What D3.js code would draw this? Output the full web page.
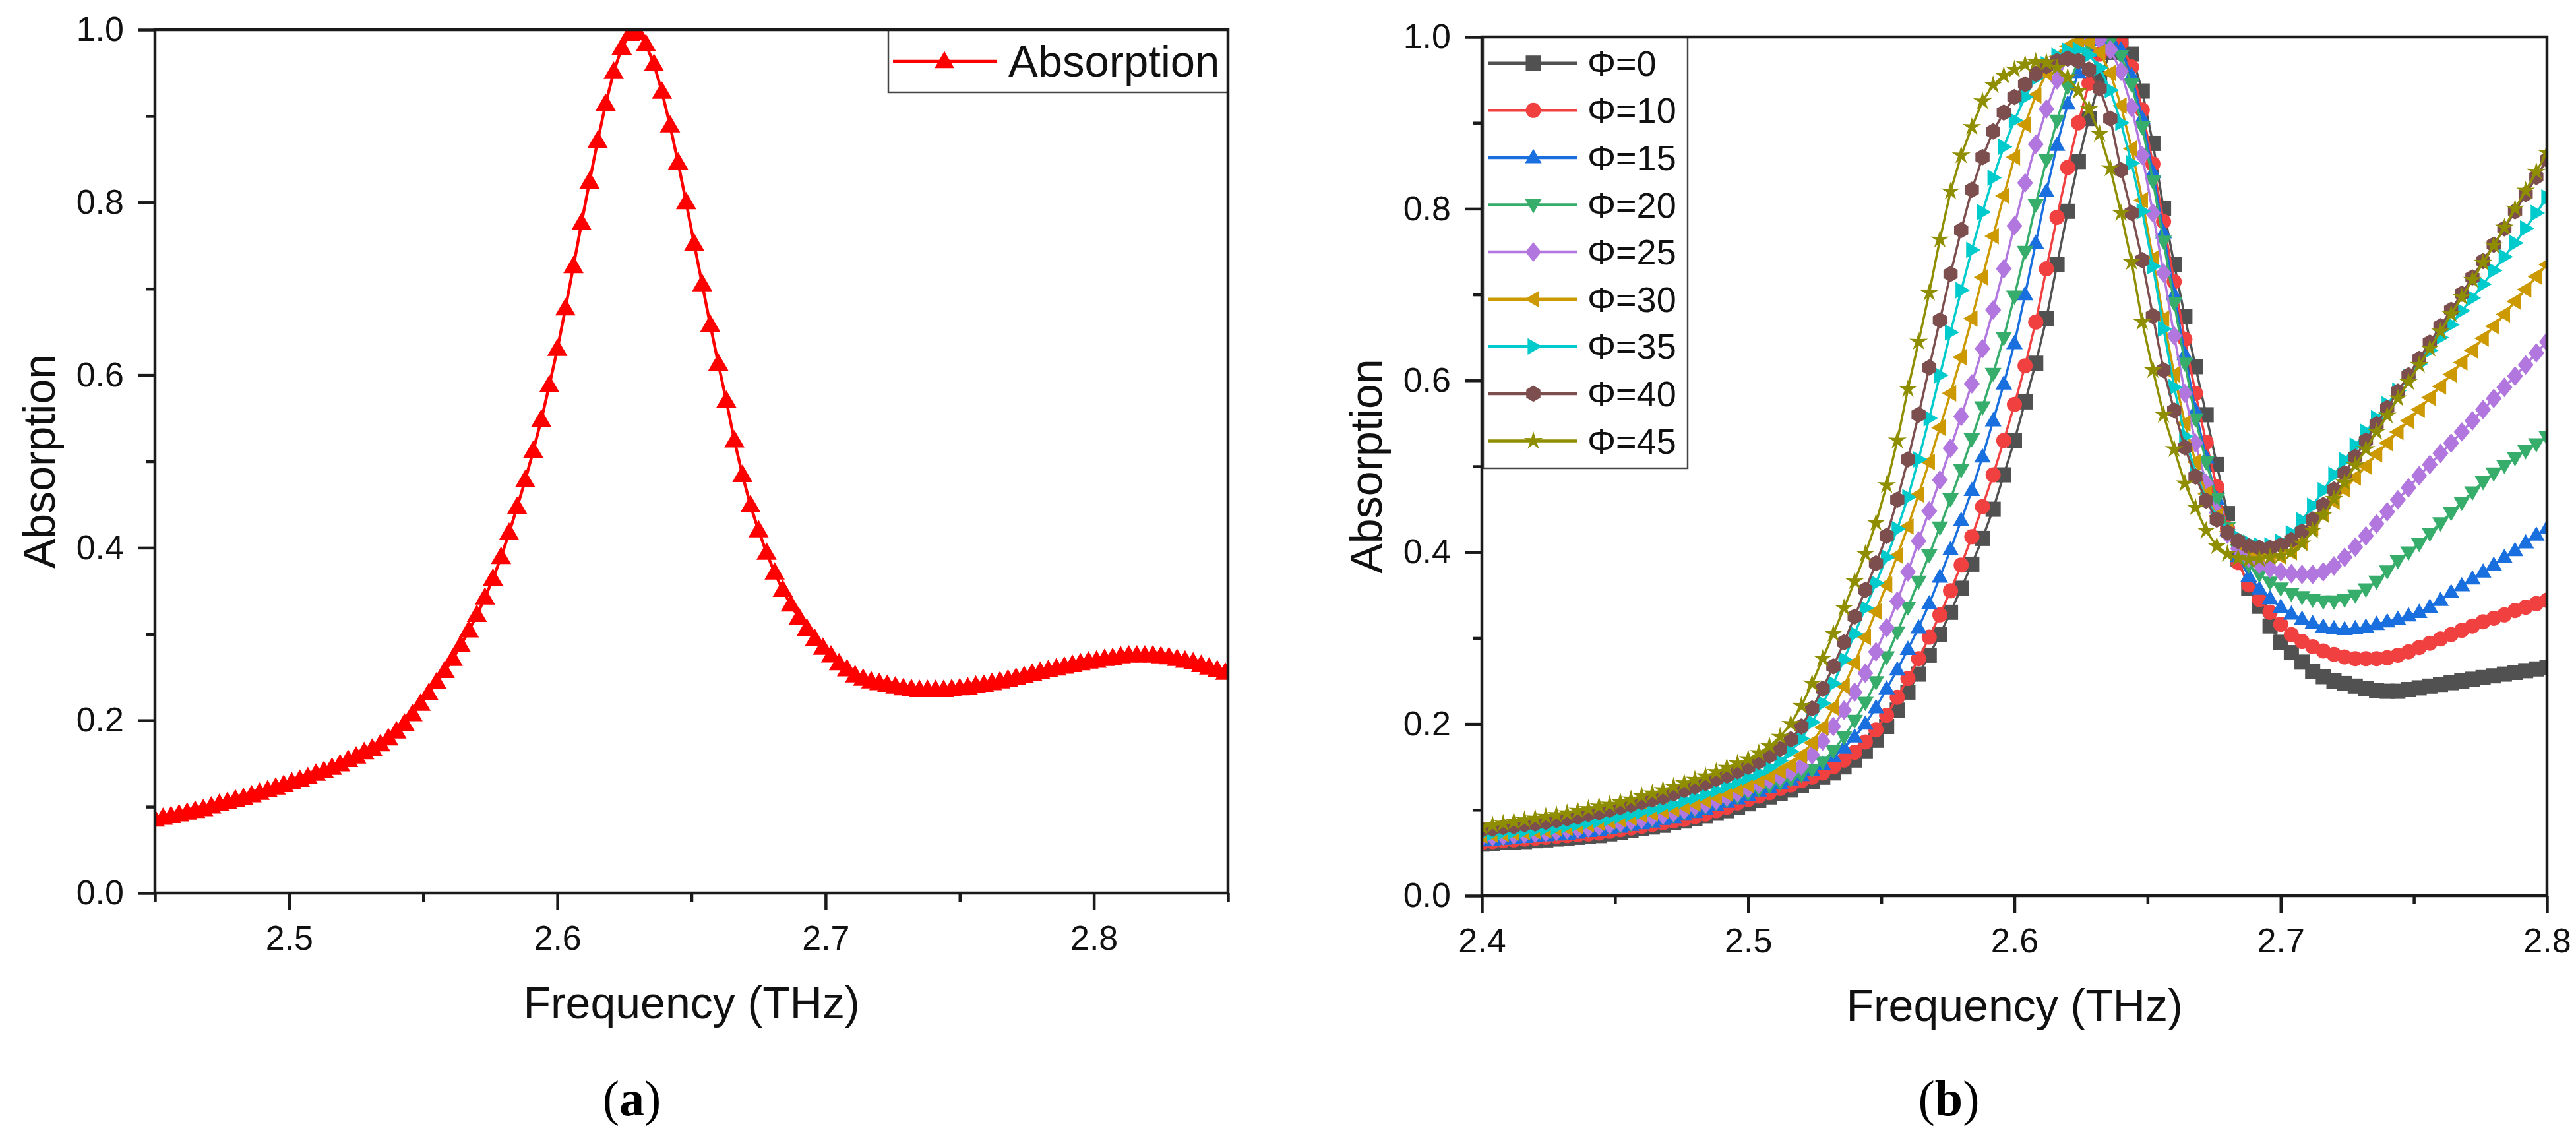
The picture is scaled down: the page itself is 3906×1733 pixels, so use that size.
<!DOCTYPE html>
<html><head><meta charset="utf-8">
<script src="https://cdn.jsdelivr.net/npm/d3@7"></script>
<style>body{margin:0;background:#fff}svg{display:block}</style>
</head><body>
<svg id="chart" width="3906" height="1733"></svg>
<script>
// ---------- Panel (a) data ----------
const freqA = [2.450,2.453,2.456,2.459,2.462,2.465,2.468,2.471,2.474,2.477,2.480,2.483,2.486,2.489,2.492,2.495,2.498,2.501,2.504,2.507,2.510,2.513,2.516,2.519,2.522,2.525,2.528,2.531,2.534,2.537,2.540,2.543,2.546,2.549,2.552,2.555,2.558,2.561,2.564,2.567,2.570,2.573,2.576,2.579,2.582,2.585,2.588,2.591,2.594,2.597,2.600,2.603,2.606,2.609,2.612,2.615,2.618,2.621,2.624,2.627,2.630,2.633,2.636,2.639,2.642,2.645,2.648,2.651,2.654,2.657,2.660,2.663,2.666,2.669,2.672,2.675,2.678,2.681,2.684,2.687,2.690,2.693,2.696,2.699,2.702,2.705,2.708,2.711,2.714,2.717,2.720,2.723,2.726,2.729,2.732,2.735,2.738,2.741,2.744,2.747,2.750,2.753,2.756,2.759,2.762,2.765,2.768,2.771,2.774,2.777,2.780,2.783,2.786,2.789,2.792,2.795,2.798,2.801,2.804,2.807,2.810,2.813,2.816,2.819,2.822,2.825,2.828,2.831,2.834,2.837,2.840,2.843,2.846,2.849];
const absA = [0.085,0.087,0.089,0.091,0.093,0.095,0.097,0.100,0.103,0.105,0.108,0.110,0.113,0.116,0.119,0.122,0.125,0.128,0.131,0.134,0.138,0.141,0.145,0.149,0.154,0.158,0.163,0.167,0.172,0.179,0.187,0.196,0.207,0.219,0.231,0.244,0.257,0.271,0.287,0.304,0.322,0.342,0.364,0.389,0.417,0.447,0.478,0.512,0.548,0.588,0.630,0.677,0.726,0.776,0.824,0.871,0.914,0.951,0.979,0.995,0.996,0.983,0.960,0.928,0.889,0.846,0.800,0.752,0.705,0.658,0.613,0.570,0.524,0.484,0.449,0.420,0.394,0.371,0.351,0.334,0.319,0.306,0.294,0.284,0.275,0.266,0.259,0.252,0.248,0.245,0.243,0.241,0.239,0.237,0.236,0.235,0.235,0.235,0.235,0.236,0.237,0.238,0.240,0.241,0.243,0.245,0.247,0.249,0.251,0.254,0.256,0.258,0.260,0.262,0.264,0.266,0.268,0.269,0.271,0.272,0.274,0.275,0.275,0.275,0.275,0.274,0.273,0.271,0.269,0.267,0.264,0.261,0.258,0.255];
const legendA = "Absorption";

// ---------- Panel (b) data ----------
const freqB = [2.400,2.404,2.408,2.412,2.416,2.420,2.424,2.428,2.432,2.436,2.440,2.444,2.448,2.452,2.456,2.460,2.464,2.468,2.472,2.476,2.480,2.484,2.488,2.492,2.496,2.500,2.504,2.508,2.512,2.516,2.520,2.524,2.528,2.532,2.536,2.540,2.544,2.548,2.552,2.556,2.560,2.564,2.568,2.572,2.576,2.580,2.584,2.588,2.592,2.596,2.600,2.604,2.608,2.612,2.616,2.620,2.624,2.628,2.632,2.636,2.640,2.644,2.648,2.652,2.656,2.660,2.664,2.668,2.672,2.676,2.680,2.684,2.688,2.692,2.696,2.700,2.704,2.708,2.712,2.716,2.720,2.724,2.728,2.732,2.736,2.740,2.744,2.748,2.752,2.756,2.760,2.764,2.768,2.772,2.776,2.780,2.784,2.788,2.792,2.796,2.800];
const phiLabels = ["Φ=0","Φ=10","Φ=15","Φ=20","Φ=25","Φ=30","Φ=35","Φ=40","Φ=45"];
const phi0 = [0.060,0.061,0.062,0.062,0.063,0.064,0.065,0.066,0.067,0.068,0.069,0.070,0.072,0.074,0.076,0.078,0.080,0.082,0.085,0.087,0.090,0.093,0.096,0.099,0.103,0.107,0.111,0.115,0.119,0.123,0.128,0.133,0.138,0.143,0.150,0.158,0.168,0.181,0.197,0.216,0.237,0.258,0.280,0.304,0.330,0.358,0.386,0.416,0.450,0.490,0.530,0.575,0.620,0.672,0.735,0.797,0.855,0.905,0.950,0.982,0.995,0.980,0.937,0.876,0.800,0.735,0.674,0.616,0.560,0.502,0.445,0.392,0.358,0.337,0.314,0.295,0.283,0.272,0.261,0.255,0.250,0.247,0.244,0.241,0.239,0.238,0.238,0.240,0.242,0.244,0.246,0.248,0.250,0.252,0.254,0.256,0.258,0.260,0.262,0.264,0.266];
const phi10 = [0.062,0.063,0.064,0.065,0.066,0.067,0.068,0.069,0.070,0.071,0.072,0.073,0.075,0.077,0.079,0.081,0.083,0.085,0.087,0.089,0.092,0.095,0.099,0.103,0.108,0.112,0.116,0.120,0.125,0.129,0.134,0.138,0.143,0.150,0.158,0.167,0.179,0.193,0.210,0.231,0.253,0.276,0.301,0.327,0.355,0.385,0.418,0.453,0.490,0.530,0.572,0.617,0.668,0.730,0.790,0.848,0.900,0.946,0.980,0.997,0.993,0.965,0.915,0.852,0.785,0.715,0.648,0.585,0.528,0.476,0.428,0.388,0.362,0.345,0.330,0.316,0.304,0.296,0.290,0.285,0.281,0.278,0.276,0.276,0.276,0.277,0.280,0.284,0.289,0.294,0.299,0.304,0.309,0.314,0.319,0.323,0.327,0.332,0.336,0.340,0.344];
const phi15 = [0.064,0.065,0.066,0.067,0.068,0.069,0.070,0.071,0.072,0.073,0.075,0.076,0.078,0.080,0.082,0.084,0.086,0.089,0.091,0.094,0.097,0.101,0.105,0.109,0.113,0.117,0.122,0.126,0.131,0.135,0.140,0.146,0.153,0.162,0.172,0.185,0.200,0.219,0.241,0.263,0.287,0.312,0.340,0.371,0.403,0.437,0.472,0.511,0.553,0.596,0.643,0.700,0.760,0.820,0.874,0.922,0.958,0.983,0.996,0.998,0.985,0.955,0.905,0.842,0.772,0.700,0.630,0.565,0.510,0.462,0.425,0.395,0.372,0.357,0.346,0.336,0.328,0.322,0.317,0.313,0.311,0.310,0.311,0.313,0.316,0.319,0.322,0.326,0.330,0.336,0.344,0.353,0.361,0.369,0.377,0.385,0.394,0.402,0.411,0.420,0.428];
const phi20 = [0.066,0.067,0.068,0.069,0.070,0.071,0.072,0.073,0.075,0.076,0.077,0.079,0.080,0.082,0.084,0.087,0.089,0.092,0.094,0.097,0.101,0.104,0.108,0.112,0.116,0.120,0.124,0.128,0.132,0.136,0.141,0.147,0.156,0.169,0.185,0.204,0.225,0.249,0.278,0.307,0.336,0.366,0.397,0.429,0.462,0.496,0.532,0.569,0.608,0.650,0.698,0.750,0.805,0.857,0.903,0.942,0.972,0.991,0.999,0.995,0.978,0.945,0.895,0.832,0.762,0.690,0.620,0.555,0.505,0.462,0.428,0.403,0.385,0.374,0.365,0.358,0.352,0.348,0.345,0.343,0.343,0.345,0.350,0.357,0.366,0.378,0.390,0.400,0.410,0.422,0.434,0.446,0.458,0.470,0.482,0.492,0.501,0.510,0.518,0.526,0.534];
const phi25 = [0.068,0.069,0.070,0.071,0.072,0.073,0.074,0.075,0.077,0.078,0.079,0.081,0.083,0.085,0.087,0.089,0.092,0.094,0.097,0.100,0.104,0.107,0.111,0.115,0.120,0.125,0.130,0.135,0.139,0.144,0.151,0.164,0.180,0.197,0.216,0.237,0.259,0.284,0.312,0.343,0.377,0.413,0.448,0.484,0.521,0.558,0.596,0.637,0.682,0.730,0.780,0.830,0.875,0.916,0.950,0.976,0.992,0.999,0.997,0.985,0.960,0.918,0.862,0.795,0.725,0.652,0.585,0.527,0.480,0.446,0.421,0.404,0.393,0.386,0.381,0.377,0.375,0.374,0.374,0.377,0.384,0.394,0.406,0.419,0.433,0.447,0.461,0.475,0.489,0.502,0.515,0.527,0.540,0.553,0.566,0.579,0.592,0.605,0.618,0.632,0.645];
const phi30 = [0.070,0.071,0.072,0.073,0.074,0.075,0.076,0.078,0.079,0.081,0.083,0.085,0.087,0.089,0.091,0.094,0.096,0.099,0.101,0.104,0.107,0.111,0.115,0.119,0.124,0.129,0.134,0.139,0.145,0.152,0.163,0.178,0.196,0.219,0.244,0.271,0.301,0.331,0.362,0.396,0.430,0.467,0.505,0.545,0.585,0.627,0.672,0.720,0.768,0.815,0.860,0.898,0.932,0.958,0.977,0.989,0.995,0.994,0.982,0.958,0.920,0.870,0.810,0.742,0.672,0.607,0.550,0.505,0.468,0.442,0.424,0.411,0.403,0.398,0.396,0.395,0.400,0.412,0.428,0.444,0.459,0.473,0.487,0.500,0.514,0.527,0.540,0.553,0.566,0.580,0.593,0.607,0.621,0.635,0.649,0.663,0.677,0.692,0.706,0.721,0.735];
const phi35 = [0.072,0.073,0.074,0.075,0.076,0.077,0.079,0.080,0.082,0.084,0.086,0.088,0.090,0.093,0.095,0.098,0.101,0.104,0.107,0.111,0.115,0.119,0.123,0.128,0.133,0.138,0.143,0.149,0.157,0.168,0.183,0.202,0.224,0.247,0.275,0.305,0.335,0.364,0.394,0.427,0.464,0.508,0.556,0.606,0.656,0.705,0.752,0.796,0.836,0.872,0.903,0.930,0.952,0.968,0.978,0.984,0.985,0.979,0.964,0.938,0.900,0.853,0.797,0.733,0.660,0.592,0.535,0.492,0.462,0.441,0.426,0.417,0.411,0.408,0.408,0.412,0.422,0.437,0.454,0.472,0.490,0.507,0.524,0.540,0.556,0.572,0.588,0.604,0.619,0.635,0.650,0.665,0.681,0.696,0.712,0.728,0.744,0.760,0.777,0.795,0.813];
const phi40 = [0.077,0.078,0.080,0.081,0.083,0.084,0.086,0.088,0.090,0.092,0.095,0.097,0.100,0.103,0.106,0.109,0.112,0.115,0.119,0.123,0.127,0.131,0.136,0.140,0.145,0.150,0.156,0.163,0.171,0.182,0.197,0.218,0.241,0.267,0.295,0.325,0.356,0.387,0.419,0.461,0.508,0.560,0.615,0.670,0.724,0.775,0.822,0.860,0.890,0.912,0.930,0.945,0.957,0.966,0.972,0.975,0.972,0.962,0.940,0.905,0.845,0.795,0.740,0.675,0.612,0.565,0.522,0.488,0.460,0.438,0.423,0.413,0.407,0.405,0.405,0.408,0.414,0.424,0.438,0.455,0.473,0.492,0.511,0.530,0.549,0.568,0.587,0.606,0.625,0.644,0.663,0.682,0.701,0.720,0.739,0.758,0.777,0.797,0.817,0.837,0.857];
const phi45 = [0.080,0.082,0.084,0.086,0.088,0.090,0.092,0.094,0.096,0.099,0.101,0.104,0.106,0.109,0.112,0.116,0.119,0.123,0.127,0.131,0.135,0.139,0.144,0.149,0.154,0.159,0.166,0.174,0.185,0.200,0.221,0.247,0.276,0.305,0.335,0.366,0.398,0.434,0.478,0.530,0.590,0.645,0.702,0.764,0.820,0.862,0.895,0.925,0.944,0.955,0.962,0.968,0.971,0.970,0.964,0.953,0.937,0.916,0.887,0.847,0.795,0.738,0.668,0.612,0.560,0.520,0.480,0.452,0.425,0.407,0.398,0.393,0.391,0.392,0.394,0.396,0.400,0.410,0.425,0.443,0.462,0.481,0.501,0.520,0.540,0.559,0.579,0.598,0.618,0.637,0.657,0.677,0.697,0.717,0.737,0.757,0.778,0.800,0.821,0.843,0.865];
const seriesB = [phi0, phi10, phi15, phi20, phi25, phi30, phi35, phi40, phi45];

// ---------- tick labels ----------
const yMajor = [0.0, 0.2, 0.4, 0.6, 0.8, 1.0];
const yMinor = [0.1, 0.3, 0.5, 0.7, 0.9];
const xMajorA = [2.5, 2.6, 2.7, 2.8];
const xMinorA = [2.45, 2.55, 2.65, 2.75, 2.85];
const xMajorB = [2.4, 2.5, 2.6, 2.7, 2.8];
const xMinorB = [2.45, 2.55, 2.65, 2.75];

// ---------- styles ----------
const colorsB = ["#515151","#F14040","#1A6FDF","#37AD6B","#B177DE","#CC9900","#00CBCC","#7D4E4E","#8E8E00"];
const shapesB = ["square","circle","up","down","diamond","left","right","hexagon","star"];
const SANS = "'Liberation Sans', Arial, Helvetica, sans-serif";
const SERIF = "'Liberation Serif', 'Times New Roman', serif";
const AX = "#1a1a1a";

const svg = d3.select("#chart");
svg.append("rect").attr("width",3906).attr("height",1733).attr("fill","#fff");

function shapePath(type, s){
  const h = s/2;
  const poly = p => "M" + p.map(q => q[0].toFixed(2)+","+q[1].toFixed(2)).join("L") + "Z";
  switch(type){
    case "square": return poly([[-h,-h],[h,-h],[h,h],[-h,h]]);
    case "circle": return `M${h},0A${h},${h} 0 1,1 ${-h},0A${h},${h} 0 1,1 ${h},0Z`;
    case "up": return poly([[0,-1.15*h],[1.1*h,0.75*h],[-1.1*h,0.75*h]]);
    case "down": return poly([[0,1.15*h],[1.1*h,-0.75*h],[-1.1*h,-0.75*h]]);
    case "left": return poly([[-1.15*h,0],[0.75*h,-1.1*h],[0.75*h,1.1*h]]);
    case "right": return poly([[1.15*h,0],[-0.75*h,-1.1*h],[-0.75*h,1.1*h]]);
    case "diamond": return poly([[0,-1.3*h],[1.05*h,0],[0,1.3*h],[-1.05*h,0]]);
    case "hexagon": { const p=[]; for(let k=0;k<6;k++){const a=Math.PI/6+k*Math.PI/3; p.push([1.08*h*Math.cos(a),1.08*h*Math.sin(a)]);} return poly(p); }
    case "star": { const p=[]; for(let k=0;k<10;k++){const a=-Math.PI/2+k*Math.PI/5; const r=(k%2)?0.45*h:1.3*h; p.push([r*Math.cos(a),r*Math.sin(a)]);} return poly(p); }
  }
}

function makePanel(id, box, xDomain, xMajor, xMinor){
  const x = d3.scaleLinear().domain(xDomain).range([box.x0, box.x1]);
  const y = d3.scaleLinear().domain([0,1]).range([box.y1, box.y0]);
  const g = svg.append("g");
  svg.append("clipPath").attr("id", id).append("rect")
    .attr("x", box.x0).attr("y", box.y0).attr("width", box.x1-box.x0).attr("height", box.y1-box.y0);
  const plot = g.append("g").attr("clip-path", `url(#${id})`);

  const styleAxis = sel => {
    sel.select(".domain").remove();
    sel.selectAll(".tick line").attr("stroke", AX).attr("stroke-width", 4.5);
    sel.selectAll(".tick text").attr("fill", "#111").style("font-family", SANS).style("font-size", "52px");
  };
  const fmt = d3.format(".1f");
  g.append("g").attr("transform", `translate(${box.x0},0)`)
    .call(d3.axisLeft(y).tickValues(yMajor).tickFormat(fmt).tickSize(26).tickPadding(21)).call(styleAxis);
  g.append("g").attr("transform", `translate(${box.x0},0)`)
    .call(d3.axisLeft(y).tickValues(yMinor).tickFormat("").tickSize(13)).call(styleAxis);
  g.append("g").attr("transform", `translate(0,${box.y1})`)
    .call(d3.axisBottom(x).tickValues(xMajor).tickFormat(fmt).tickSize(26).tickPadding(23)).call(styleAxis);
  g.append("g").attr("transform", `translate(0,${box.y1})`)
    .call(d3.axisBottom(x).tickValues(xMinor).tickFormat("").tickSize(13)).call(styleAxis);

  g.append("text").attr("x", (box.x0+box.x1)/2).attr("y", box.y1+190)
    .attr("text-anchor","middle").style("font-family", SANS).style("font-size","68px").attr("fill","#111")
    .text("Frequency (THz)");
  g.append("text").attr("transform", `translate(${box.x0-152},${(box.y0+box.y1)/2}) rotate(-90)`)
    .attr("text-anchor","middle").style("font-family", SANS).style("font-size","68px").attr("fill","#111")
    .text("Absorption");
  return {x, y, g, plot, box};
}

function frame(p){
  p.g.append("rect").attr("x", p.box.x0).attr("y", p.box.y0)
    .attr("width", p.box.x1-p.box.x0).attr("height", p.box.y1-p.box.y0)
    .attr("fill","none").attr("stroke", AX).attr("stroke-width", 4.5);
}

function panelLabel(cx, letter){
  const t = svg.append("text").attr("x", cx).attr("y", 1691).attr("text-anchor","middle")
    .style("font-family", SERIF).style("font-size","76px").attr("fill","#000");
  t.append("tspan").text("(");
  t.append("tspan").attr("font-weight","bold").text(letter);
  t.append("tspan").text(")");
}

// ---------- Panel (a) ----------
const pA = makePanel("clipA", {x0:235, x1:1862, y0:45, y1:1354}, [2.45, 2.85], xMajorA, xMinorA);
const dataA = d3.zip(freqA, absA);
const lineA = d3.line().x(d => pA.x(d[0])).y(d => pA.y(d[1]));
pA.plot.append("path").datum(dataA).attr("d", lineA).attr("fill","none").attr("stroke","#ff0000").attr("stroke-width",4.5);
pA.plot.selectAll("path.mA").data(dataA).enter().append("path").attr("class","mA")
  .attr("d", shapePath("up", 28)).attr("fill","#ff0000")
  .attr("transform", d => `translate(${pA.x(d[0])},${pA.y(d[1])})`);
// legend (a)
const lgA = pA.g.append("g");
lgA.append("rect").attr("x",1347).attr("y",45).attr("width",515).attr("height",95)
  .attr("fill","#fff").attr("stroke","#444").attr("stroke-width",2.5);
lgA.append("line").attr("x1",1354).attr("x2",1511).attr("y1",93).attr("y2",93).attr("stroke","#ff0000").attr("stroke-width",4.5);
lgA.append("path").attr("d", shapePath("up", 27)).attr("fill","#ff0000").attr("transform","translate(1432,93)");
lgA.append("text").attr("x",1529).attr("y",116).style("font-family",SANS).style("font-size","67px").attr("fill","#111").text(legendA);
frame(pA);
panelLabel(958, "a");

// ---------- Panel (b) ----------
const pB = makePanel("clipB", {x0:2247, x1:3862, y0:56, y1:1358}, [2.4, 2.8], xMajorB, xMinorB);
const lineB = d3.line().x(d => pB.x(d[0])).y(d => pB.y(d[1]));
seriesB.forEach((vals, i) => {
  const data = d3.zip(freqB, vals);
  const gs = pB.plot.append("g");
  gs.append("path").datum(data).attr("d", lineB).attr("fill","none").attr("stroke", colorsB[i]).attr("stroke-width", 3.5);
  gs.selectAll("path.m").data(data).enter().append("path").attr("class","m")
    .attr("d", shapePath(shapesB[i], 23)).attr("fill", colorsB[i])
    .attr("transform", d => `translate(${pB.x(d[0])},${pB.y(d[1])})`);
});
// legend (b)
const lgB = pB.g.append("g");
lgB.append("rect").attr("x",2249).attr("y",56).attr("width",310).attr("height",654)
  .attr("fill","#fff").attr("stroke","#444").attr("stroke-width",2.5);
phiLabels.forEach((lab, i) => {
  const ry = 95.7 + 71.6*i;
  lgB.append("line").attr("x1",2257).attr("x2",2391).attr("y1",ry).attr("y2",ry).attr("stroke",colorsB[i]).attr("stroke-width",4.5);
  lgB.append("path").attr("d", shapePath(shapesB[i], 23)).attr("fill", colorsB[i]).attr("transform",`translate(2325,${ry})`);
  lgB.append("text").attr("x",2407).attr("y",ry+19).style("font-family",SANS).style("font-size","54px").attr("fill","#111").text(lab);
});
frame(pB);
panelLabel(2955, "b");
</script>
</body></html>
